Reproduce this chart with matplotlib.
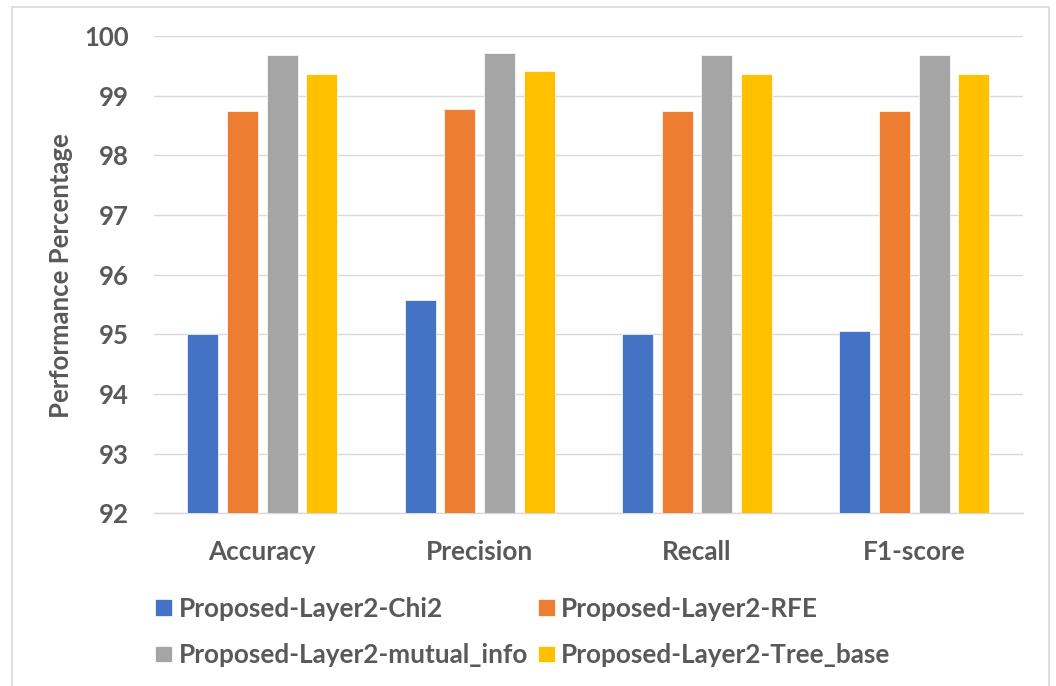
import matplotlib
matplotlib.use("Agg")
import matplotlib.pyplot as plt
from matplotlib.patches import Rectangle
import numpy as np

# Data
metrics = ["Accuracy", "Precision", "Recall", "F1-score"]
series_names = [
    "Proposed-Layer2-Chi2",
    "Proposed-Layer2-RFE",
    "Proposed-Layer2-mutual_info",
    "Proposed-Layer2-Tree_base",
]
chi2 = [95.00, 95.58, 95.00, 95.05]
rfe = [98.75, 98.78, 98.75, 98.75]
mutual_info = [99.69, 99.71, 99.69, 99.69]
tree_base = [99.37, 99.42, 99.37, 99.37]
y_ticks = [92, 93, 94, 95, 96, 97, 98, 99, 100]

colors = ["#4472C4", "#ED7D31", "#A5A5A5", "#FFC000"]
text_color = "#595959"
grid_color = "#D9D9D9"

plt.rcParams["font.family"] = ["Lato", "DejaVu Sans"]
plt.rcParams["font.weight"] = "bold"

fig = plt.figure(figsize=(10.56, 6.86), dpi=100)
ax = fig.add_axes([0.1454, 0.2515, 0.9688 - 0.1454, 0.9475 - 0.2515])

x = np.arange(len(metrics))
bar_w = 0.1426
step = 0.1826
all_series = [chi2, rfe, mutual_info, tree_base]
bars = []
for i, (vals, name, c) in enumerate(zip(all_series, series_names, colors)):
    offset = (i - 1.5) * step
    b = ax.bar(x + offset, np.array(vals) - 92, bottom=92, width=bar_w,
               color=c, edgecolor="white", linewidth=0.5, label=name, zorder=3)
    bars.append(b)

ax.set_xlim(-0.5, len(metrics) - 0.5)
ax.set_ylim(92, 100)
ax.set_yticks(y_ticks)
ax.set_yticklabels([str(t) for t in y_ticks])
ax.set_xticks(x)
ax.set_xticklabels(metrics)

ax.grid(axis="y", color=grid_color, linewidth=1.0, zorder=0)
ax.set_axisbelow(True)
for side in ["top", "right", "left"]:
    ax.spines[side].set_visible(False)
ax.spines["bottom"].set_color(grid_color)
ax.spines["bottom"].set_linewidth(1.0)

ax.tick_params(axis="y", length=0, pad=18, labelsize=18.5, labelcolor=text_color)
ax.tick_params(axis="x", length=0, pad=19, labelsize=18.8, labelcolor=text_color)
for lbl in ax.get_xticklabels() + ax.get_yticklabels():
    lbl.set_fontweight("bold")

ax.set_ylabel("Performance Percentage", fontsize=18.5, fontweight="bold",
              color=text_color)
ax.yaxis.label.set(va="center", ha="center")
ax.yaxis.set_label_coords(-0.106, 0.498)

# Legend laid out row by row: (Chi2, RFE) / (mutual_info, Tree_base)
order = [0, 2, 1, 3]
leg = fig.legend([bars[i] for i in order], [series_names[i] for i in order],
                 loc="center left", bbox_to_anchor=(155 / 1056, 1 - 632 / 686),
                 ncol=2, frameon=False, fontsize=18.8,
                 handlelength=0.65, handleheight=0.6, handletextpad=0.25,
                 columnspacing=0.38, labelspacing=0.85, borderpad=0,
                 borderaxespad=0)
for t in leg.get_texts():
    t.set_color(text_color)
    t.set_fontweight("bold")

# Light frame around the whole chart
fig.patches.append(Rectangle((12 / 1056, -0.05), (1049 - 12) / 1056, 1.05 - 7 / 686,
                             transform=fig.transFigure, fill=False,
                             edgecolor=grid_color, linewidth=1.2))

fig.savefig("out.png", dpi=100)
